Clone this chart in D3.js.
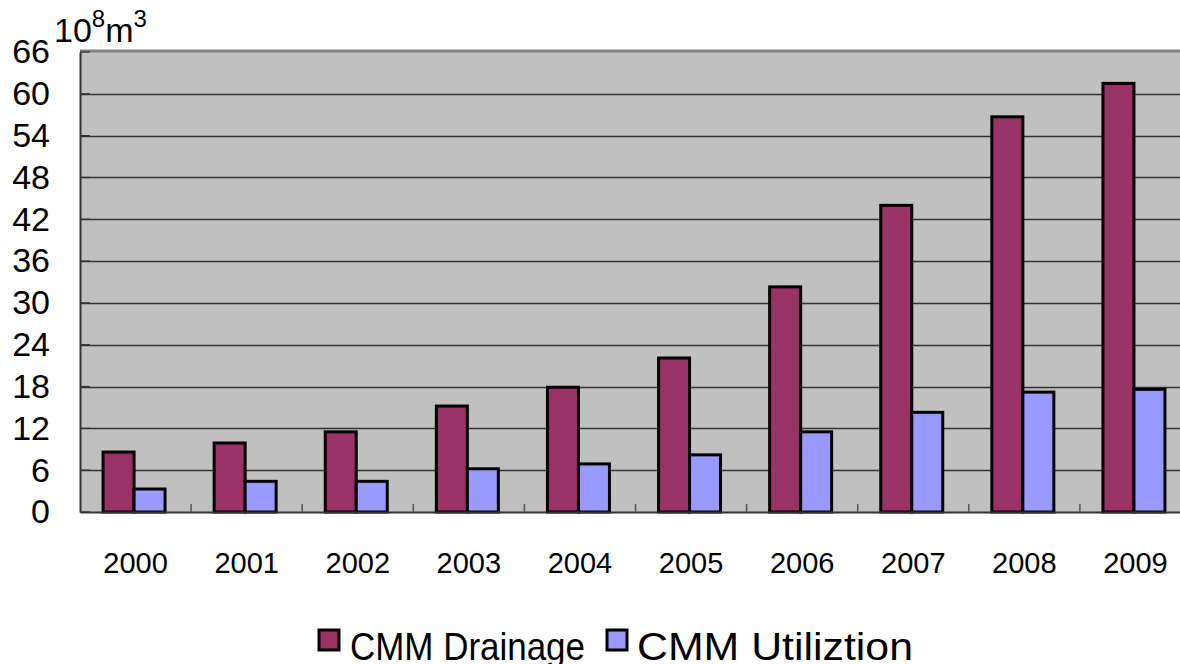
<!DOCTYPE html>
<html>
<head>
<meta charset="utf-8">
<script src="https://cdn.jsdelivr.net/npm/d3@7.9.0/dist/d3.min.js"></script>
<style>
  body { margin: 0; background: #fff; }
  svg { display: block; font-family: "Liberation Sans", Arial, sans-serif; }
</style>
</head>
<body>
<svg id="chart" width="1180" height="664"></svg>
<script>
// data (10^8 m3)
const years = ["2000", "2001", "2002", "2003", "2004", "2005", "2006", "2007", "2008", "2009"];
const drainage = [8.6, 9.9, 11.5, 15.2, 17.9, 22.1, 32.3, 44.0, 56.7, 61.5];
const utilization = [3.3, 4.4, 4.4, 6.2, 6.9, 8.2, 11.5, 14.3, 17.2, 17.6];
const yTicks = [0, 6, 12, 18, 24, 30, 36, 42, 48, 54, 60, 66];
const seriesNames = ["CMM Drainage", "CMM Utiliztion"];
const seriesColors = ["#993366", "#9999FF"];

const svg = d3.select("#chart");
const plotL = 80, plotR = 1191, plotT = 52, plotB = 512;

const x = d3.scaleBand().domain(years).range([plotL, plotR]).paddingInner(0).paddingOuter(0);
const y = d3.scaleLinear().domain([0, 66]).range([plotB, plotT]);

// plot background
svg.append("rect")
  .attr("x", plotL).attr("y", plotT)
  .attr("width", plotR - plotL).attr("height", plotB - plotT)
  .attr("fill", "#C0C0C0");

// top border
svg.append("line")
  .attr("x1", plotL).attr("x2", plotR)
  .attr("y1", plotT - 1).attr("y2", plotT - 1)
  .attr("stroke", "#808080").attr("stroke-width", 3);

// gridlines
svg.append("g").selectAll("line")
  .data(yTicks.filter(d => d > 0 && d < 66))
  .join("line")
  .attr("x1", plotL).attr("x2", plotR)
  .attr("y1", d => Math.round(y(d)) + 0.5).attr("y2", d => Math.round(y(d)) + 0.5)
  .attr("stroke", "#333").attr("stroke-width", 1.3);

// bars
const barW = 31;
const groups = svg.append("g").selectAll("g")
  .data(years)
  .join("g")
  .attr("transform", d => `translate(${x(d) + x.bandwidth() / 2 - 1.5},0)`);

[drainage, utilization].forEach((vals, s) => {
  groups.append("rect")
    .attr("x", s === 0 ? -barW : 0)
    .attr("y", (d, i) => y(vals[i]))
    .attr("width", barW)
    .attr("height", (d, i) => y(0) - y(vals[i]))
    .attr("fill", seriesColors[s])
    .attr("stroke", "#000")
    .attr("stroke-width", 3);
});

// y axis
const yAxis = svg.append("g")
  .attr("transform", `translate(${plotL},0)`)
  .call(d3.axisLeft(y).tickValues(yTicks).tickSize(0).tickPadding(30));
yAxis.select(".domain").attr("stroke", "#333").attr("stroke-width", 2);
yAxis.selectAll("text")
  .attr("font-size", 34).attr("fill", "#000")
  .attr("font-family", "Liberation Sans, Arial, sans-serif");
svg.append("g").selectAll("line")
  .data(yTicks)
  .join("line")
  .attr("x1", plotL).attr("x2", plotL + 10)
  .attr("y1", d => y(d)).attr("y2", d => y(d))
  .attr("stroke", "#333").attr("stroke-width", 1.3);

// x axis
const xAxis = svg.append("g")
  .attr("transform", `translate(0,${plotB})`)
  .call(d3.axisBottom(x).tickSize(0).tickPadding(40));
xAxis.select(".domain").attr("stroke", "#333").attr("stroke-width", 2);
xAxis.selectAll("text")
  .attr("font-size", 29).attr("fill", "#000")
  .attr("font-family", "Liberation Sans, Arial, sans-serif");
svg.append("g").selectAll("line")
  .data(years.slice(1))
  .join("line")
  .attr("x1", d => x(d)).attr("x2", d => x(d))
  .attr("y1", plotB).attr("y2", plotB - 8)
  .attr("stroke", "#555").attr("stroke-width", 1.5);

// unit label
const unit = svg.append("text")
  .attr("x", 54).attr("y", 42)
  .attr("font-size", 34).attr("fill", "#000");
unit.append("tspan").text("10");
unit.append("tspan").attr("font-size", 24).attr("dy", -15).text("8");
unit.append("tspan").attr("dy", 15).text("m");
unit.append("tspan").attr("font-size", 24).attr("dy", -15).text("3");

// legend
const legendItems = [
  { x: 319, textX: 350, len: 235 },
  { x: 607, textX: 637, len: 276 }
];
seriesNames.forEach((name, i) => {
  const it = legendItems[i];
  svg.append("rect")
    .attr("x", it.x).attr("y", 630)
    .attr("width", 20).attr("height", 20)
    .attr("fill", seriesColors[i])
    .attr("stroke", "#000").attr("stroke-width", 3);
  svg.append("text")
    .attr("x", it.textX).attr("y", 660)
    .attr("font-size", 39)
    .attr("textLength", it.len)
    .attr("lengthAdjust", "spacingAndGlyphs")
    .text(name);
});
</script>
</body>
</html>
